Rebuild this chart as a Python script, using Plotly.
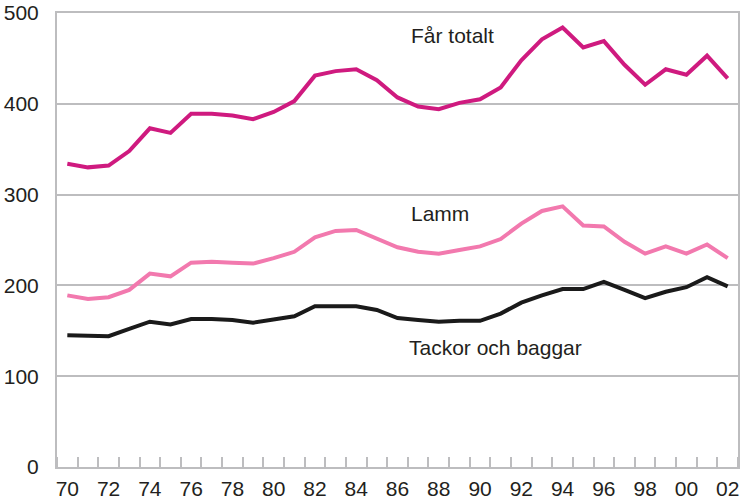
import plotly.graph_objects as go

# Antal får (tusental), 1970-2002
years = list(range(1970, 2003))

far_totalt = [334, 330, 332, 348, 373, 368, 389, 389, 387, 383, 391, 403,
              431, 436, 438, 426, 407, 397, 394, 401, 405, 418, 448, 471,
              484, 462, 469, 443, 421, 438, 432, 453, 428]

lamm = [189, 185, 187, 195, 213, 210, 225, 226, 225, 224, 230, 237,
        253, 260, 261, 252, 242, 237, 235, 239, 243, 251, 268, 282,
        287, 266, 265, 248, 235, 243, 235, 245, 230]

tackor_baggar = [145, 144, 144, 152, 160, 157, 163, 163, 162, 159, 162, 166,
                 177, 177, 177, 173, 164, 162, 160, 161, 161, 169, 181, 189,
                 196, 196, 204, 195, 186, 193, 198, 209, 199]

tick_years = list(range(1970, 2003, 2))
tick_text = [str(y)[2:] for y in tick_years]
y_ticks = [0, 100, 200, 300, 400, 500]

grey = "#bdbdbf"
text_color = "#231f20"

fig = go.Figure()

fig.add_trace(go.Scatter(x=years, y=far_totalt, mode="lines",
                         line=dict(color="#cf1a7f", width=4), name="Får totalt"))
fig.add_trace(go.Scatter(x=years, y=lamm, mode="lines",
                         line=dict(color="#f279ae", width=4), name="Lamm"))
fig.add_trace(go.Scatter(x=years, y=tackor_baggar, mode="lines",
                         line=dict(color="#1a1a1a", width=4), name="Tackor och baggar"))

# Etiketter vid linjerna
labels = [("Får totalt", 1986.55, 475), ("Lamm", 1986.55, 279),
          ("Tackor och baggar", 1986.45, 132)]
for text, x, y in labels:
    fig.add_annotation(x=x, y=y, text=text, showarrow=False, xanchor="left",
                       font=dict(size=21, color=text_color))

fig.update_layout(
    width=744,
    height=499,
    margin=dict(l=57, r=6, t=13, b=32),
    plot_bgcolor="white",
    paper_bgcolor="white",
    showlegend=False,
    font=dict(family="Liberation Sans, Arial, sans-serif", size=21, color=text_color),
    xaxis=dict(
        range=[1969.5, 2002.5],
        tickvals=tick_years,
        ticktext=tick_text,
        ticks="",
        ticklabelstandoff=2,
        automargin=False,
        showgrid=False,
        showline=True,
        linecolor=grey,
        linewidth=2,
        mirror=True,
        zeroline=False,
        minor=dict(tick0=1969.5, dtick=1, ticks="inside", ticklen=10,
                   tickcolor=grey, tickwidth=2, showgrid=False),
    ),
    yaxis=dict(
        range=[0, 500],
        tickvals=y_ticks,
        ticks="",
        ticklabelstandoff=12,
        automargin=False,
        showgrid=True,
        gridcolor=grey,
        gridwidth=2,
        showline=True,
        linecolor=grey,
        linewidth=2,
        mirror=True,
        zeroline=False,
    ),
)

# sidans standardmarginal bort så att figuren fyller fönstret
fig.write_html("out.html", config={"displayModeBar": False},
               post_script="document.body.style.margin='0px';")
